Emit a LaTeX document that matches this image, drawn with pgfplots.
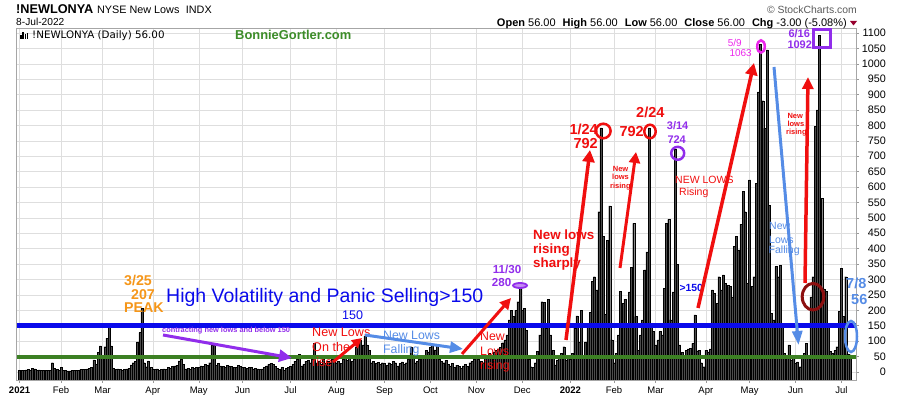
\documentclass[border=0pt]{standalone}
\usepackage{pgfplots}
\pgfplotsset{compat=1.18}
\usepackage{pgfplotstable}
\usepackage{fontspec}
\setmainfont{Liberation Sans}
\newfontfamily\dejavu{DejaVu Sans}
\usetikzlibrary{arrows.meta}
\definecolor{barfill}{RGB}{75,75,75}
\definecolor{hvblue}{RGB}{10,10,235}
\definecolor{lgreen}{RGB}{60,128,35}
\definecolor{ared}{RGB}{240,15,15}
\definecolor{apurple}{RGB}{145,45,235}
\definecolor{amagenta}{RGB}{235,40,235}
\definecolor{lblue}{RGB}{85,140,230}
\definecolor{dred}{RGB}{140,15,15}
\definecolor{aorange}{RGB}{245,150,25}
\definecolor{bgreen}{RGB}{60,140,40}
\definecolor{scgray}{RGB}{90,90,90}
\definecolor{tri}{RGB}{150,0,45}
\newcommand{\fs}[1]{\fontsize{#1}{#1}\selectfont}
\pgfplotstableread[row sep=\\]{
i v\\
0 6\\ 1 6\\ 2 5\\ 3 7\\ 4 8\\ 5 6\\ 6 12\\ 7 10\\ 8 6\\ 9 7\\ 10 6\\ 11 5\\ 12 6\\ 13 5\\ 14 6\\ 15 30\\ 16 12\\ 17 8\\ 18 6\\
19 15\\ 20 6\\ 21 5\\ 22 4\\ 23 4\\ 24 5\\ 25 5\\ 26 6\\ 27 6\\ 28 8\\ 29 8\\ 30 9\\ 31 10\\ 32 12\\ 33 14\\ 34 39\\ 35 25\\ 36 63\\ 37 85\\
38 50\\ 39 82\\ 40 110\\ 41 145\\ 42 85\\ 43 12\\ 44 8\\ 45 10\\ 46 8\\ 47 6\\ 48 8\\ 49 10\\ 50 12\\ 51 23\\ 52 30\\ 53 35\\ 54 98\\ 55 128\\ 56 207\\ 57 30\\ 58 17\\ 59 36\\ 60 15\\
61 10\\ 62 8\\ 63 10\\ 64 6\\ 65 8\\ 66 10\\ 67 8\\ 68 14\\ 69 12\\ 70 18\\ 71 20\\ 72 22\\ 73 36\\ 74 40\\ 75 25\\ 76 10\\ 77 12\\ 78 8\\ 79 14\\ 80 12\\ 81 16\\
82 15\\ 83 20\\ 84 18\\ 85 25\\ 86 22\\ 87 30\\ 88 86\\ 89 88\\ 90 22\\ 91 28\\ 92 20\\ 93 18\\ 94 15\\ 95 22\\ 96 20\\ 97 18\\ 98 14\\ 99 16\\ 100 22\\ 101 18\\
102 14\\ 103 16\\ 104 12\\ 105 14\\ 106 15\\ 107 10\\ 108 12\\ 109 10\\ 110 8\\ 111 10\\ 112 14\\ 113 20\\ 114 25\\ 115 28\\ 116 24\\ 117 18\\ 118 12\\ 119 8\\ 120 14\\ 121 6\\ 122 12\\ 123 14\\
124 18\\ 125 25\\ 126 35\\ 127 40\\ 128 58\\ 129 20\\ 130 25\\ 131 35\\ 132 38\\ 133 30\\ 134 40\\ 135 92\\ 136 30\\ 137 35\\ 138 25\\ 139 40\\ 140 28\\ 141 35\\ 142 30\\ 143 40\\ 144 35\\
145 30\\ 146 35\\ 147 28\\ 148 40\\ 149 45\\ 150 38\\ 151 44\\ 152 35\\ 153 40\\ 154 82\\ 155 88\\ 156 104\\ 157 88\\ 158 117\\ 159 88\\ 160 71\\ 161 30\\ 162 35\\ 163 28\\ 164 32\\ 165 25\\ 166 30\\
167 28\\ 168 22\\ 169 30\\ 170 25\\ 171 35\\ 172 30\\ 173 20\\ 174 28\\ 175 33\\ 176 25\\ 177 30\\ 178 40\\ 179 82\\ 180 55\\ 181 30\\ 182 35\\ 183 40\\ 184 45\\ 185 55\\ 186 70\\ 187 65\\
188 80\\ 189 88\\ 190 72\\ 191 85\\ 192 40\\ 193 35\\ 194 30\\ 195 38\\ 196 25\\ 197 20\\ 198 28\\ 199 15\\ 200 22\\ 201 18\\ 202 12\\ 203 20\\ 204 25\\ 205 18\\ 206 30\\ 207 35\\ 208 40\\
209 45\\ 210 40\\ 211 35\\ 212 30\\ 213 45\\ 214 50\\ 215 60\\ 216 55\\ 217 65\\ 218 70\\ 219 75\\ 220 80\\ 221 95\\ 222 104\\ 223 120\\ 224 169\\ 225 201\\ 226 180\\ 227 200\\ 228 228\\ 229 280\\
230 201\\ 231 207\\ 232 136\\ 233 40\\ 234 17\\ 235 15\\ 236 30\\ 237 66\\ 238 120\\ 239 228\\ 240 225\\ 241 142\\ 242 236\\ 243 120\\ 244 71\\ 245 23\\ 246 39\\ 247 45\\ 248 60\\ 249 82\\ 250 39\\ 251 50\\
252 40\\ 253 60\\ 254 142\\ 255 182\\ 256 98\\ 257 201\\ 258 50\\ 259 98\\ 260 150\\ 261 193\\ 262 293\\ 263 309\\ 264 266\\ 265 520\\ 266 792\\ 267 439\\ 268 187\\ 269 428\\ 270 539\\ 271 104\\
272 30\\ 273 60\\ 274 120\\ 275 261\\ 276 223\\ 277 236\\ 278 152\\ 279 260\\ 280 340\\ 281 482\\ 282 180\\ 283 70\\ 284 120\\ 285 169\\ 286 331\\ 287 390\\ 288 792\\ 289 158\\ 290 131\\
291 88\\ 292 104\\ 293 131\\ 294 120\\ 295 271\\ 296 482\\ 297 495\\ 298 169\\ 299 260\\ 300 724\\ 301 350\\ 302 88\\ 303 63\\ 304 45\\ 305 71\\ 306 75\\ 307 77\\ 308 93\\ 309 185\\ 310 69\\ 311 71\\ 312 30\\ 313 17\\
314 71\\ 315 65\\ 316 75\\ 317 266\\ 318 255\\ 319 223\\ 320 309\\ 321 266\\ 322 315\\ 323 288\\ 324 282\\ 325 277\\ 326 244\\ 327 407\\ 328 439\\ 329 396\\ 330 480\\ 331 585\\ 332 520\\ 333 288\\
334 623\\ 335 277\\ 336 309\\ 337 612\\ 338 909\\ 339 1063\\ 340 880\\ 341 790\\ 342 1045\\ 343 540\\ 344 190\\ 345 169\\ 346 342\\ 347 309\\ 348 347\\ 349 152\\ 350 60\\ 351 44\\ 352 88\\ 353 39\\ 354 44\\
355 28\\ 356 33\\ 357 17\\ 358 44\\ 359 60\\ 360 93\\ 361 55\\ 362 244\\ 363 309\\ 364 796\\ 365 850\\ 366 1092\\ 367 563\\ 368 270\\ 369 262\\ 370 150\\ 371 66\\ 372 60\\ 373 70\\ 374 82\\ 375 196\\
376 336\\ 377 180\\ 378 309\\ 379 59\\ 380 56\\
}\newlows
\begin{document}
\begin{tikzpicture}
\useasboundingbox (0,0) rectangle (900pt,396pt);
\begin{axis}[
  at={(16.7pt,16pt)}, anchor=south west,
  width=839.3pt, height=352pt, scale only axis,
  xmin=-1.3, xmax=382.7, ymin=0, ymax=1142,
  axis line style={draw=black!35},
  ytick={26,76,...,1126},
  yticklabels={0,50,100,150,200,250,300,350,400,450,500,550,600,650,700,750,800,850,900,950,1000,1050,1100},
  ytick pos=right, yticklabel pos=right,
  yticklabel style={font=\fs{10.8}, anchor=east, inner sep=0pt, xshift=27pt},
  xtick={0,19,38,61,82,102,124,145,167,188,209,230,252,272,291,314,334,355,376},
  xticklabels={\textbf{2021},Feb,Mar,Apr,May,Jun,Jul,Aug,Sep,Oct,Nov,Dec,\textbf{2022},Feb,Mar,Apr,May,Jun,Jul},
  xtick pos=bottom,
  xticklabel style={font=\fs{9.5}},
  tick align=outside, major tick length=3pt,
  tick style={draw=black!40, line width=0.5pt},
  grid=major, grid style={draw=black!13, line width=0.5pt},
]
\addplot[ybar, bar width=2pt, fill=barfill, draw=black, line width=0.35pt]
  table[x=i, y expr=\thisrow{v}+26] {\newlows};
\addplot[hvblue, line width=5pt] coordinates {(-1.3,176) (382.7,176)};
\addplot[lgreen, line width=4pt] coordinates {(-1.3,76) (382.7,76)};
\end{axis}
\begin{scope}[x=1pt, y=-1pt, shift={(0pt,396pt)}]
  \tikzset{t/.style={anchor=base west, inner sep=0pt}, te/.style={anchor=base east, inner sep=0pt}}
  % header
  \node[t, font=\fs{12.7}\bfseries] at (16,14) {!NEWLONYA};
  \node[t, font=\fs{10.8}] at (97,13.3) {NYSE New Lows\hspace{3.5pt} INDX};
  \node[t, font=\fs{10.2}] at (16,26) {8-Jul-2022};
  \node[te, font=\fs{10.4}, text=scgray] at (857,13.3) {© StockCharts.com};
  \node[te, font=\fs{11}] at (847,26.7) {\textbf{Open} 56.00\hspace{4pt} \textbf{High} 56.00\hspace{4pt} \textbf{Low} 56.00\hspace{4pt} \textbf{Close} 56.00\hspace{4pt} \textbf{Chg} -3.00 (-5.08\%)};
  \fill[tri] (850,21) -- (857,21) -- (853.5,25.5) -- cycle;
  \fill (20,39) rectangle (21.6,35); \fill (22.4,39) rectangle (24,32); \fill (24.8,39) rectangle (26.4,34); \fill (27.2,39) rectangle (28.4,33);
  \node[t, font=\dejavu\fs{10.3}] at (32,39) {!NEWLONYA (Daily) 56.00};
  \node[t, font=\fs{12.9}\bfseries, text=bgreen] at (235,39.3) {BonnieGortler.com};
  % 2021 annotations
  \node[t, font=\fs{14.2}\bfseries, text=aorange] at (124,286) {3/25};
  \node[t, font=\fs{14.2}\bfseries, text=aorange] at (131,300) {207};
  \node[t, font=\fs{14.2}\bfseries, text=aorange] at (124,312.7) {PEAK};
  \node[t, font=\fs{19.5}, text=hvblue] at (166,302.7) {High Volatility and Panic Selling>150};
  \node[t, font=\fs{12.5}, text=hvblue] at (342,320) {150};
  \node[t, font=\fs{7.4}\bfseries, text=apurple] at (162,333) {contracting new lows and below 150};
  \draw[apurple, line width=3pt, -{Triangle[length=13pt,width=12pt]}] (163,335) -- (292,358);
  \node[t, font=\fs{12.6}, text=ared] at (312,337) {New Lows};
  \node[t, font=\fs{12.6}, text=ared] at (312,351.7) {On the};
  \node[t, font=\fs{12.6}, text=ared] at (312,366.5) {rise};
  \draw[ared, line width=3pt, -{Triangle[length=10pt,width=10pt]}] (333,362) -- (362,338);
  \node[t, font=\fs{12.3}, text=lblue] at (383,340) {New Lows};
  \node[t, font=\fs{12.3}, text=lblue] at (383,354) {Falling};
  \draw[lblue, line width=3pt, -{Triangle[length=13pt,width=11pt]}] (365,335) -- (463,349);
  \node[t, font=\fs{12.3}, text=ared] at (480,340.5) {New};
  \node[t, font=\fs{12.3}, text=ared] at (480,355.5) {Lows};
  \node[t, font=\fs{12.3}, text=ared] at (480,369.5) {rising};
  \draw[ared, line width=3pt, -{Triangle[length=11pt,width=11pt]}] (462,354) -- (511,298);
  \node[t, font=\fs{11.6}\bfseries, text=apurple] at (492.7,273.3) {11/30};
  \node[t, font=\fs{11.6}\bfseries, text=apurple] at (491.7,286.7) {280};
  \draw[apurple, line width=1.8pt, fill=apurple!55] (520,285.5) ellipse (7 and 2.5);
  % 2022 annotations
  \node[t, font=\fs{13.4}\bfseries, text=ared] at (533,240) {New lows};
  \node[t, font=\fs{13.4}\bfseries, text=ared] at (533,254) {rising};
  \node[t, font=\fs{13.4}\bfseries, text=ared] at (533,267.5) {sharply};
  \draw[ared, line width=3.5pt, -{Triangle[length=12pt,width=12pt]}] (566,340) -- (590,150);
  \node[t, font=\fs{14.5}\bfseries, text=ared] at (569.3,134.3) {1/24};
  \node[t, font=\fs{14.5}\bfseries, text=ared] at (573.3,148.3) {792};
  \draw[ared, line width=2.5pt] (603.3,131) circle (7.3);
  \node[t, font=\fs{7.5}\bfseries, text=ared] at (612.7,171.7) {New};
  \node[t, font=\fs{7.5}\bfseries, text=ared] at (612,180) {lows};
  \node[t, font=\fs{7.5}\bfseries, text=ared] at (610,189) {rising};
  \draw[ared, line width=3pt, -{Triangle[length=11pt,width=11pt]}] (620,268) -- (636,152);
  \node[t, font=\fs{14.5}\bfseries, text=ared] at (619.3,136.7) {792};
  \node[t, font=\fs{14.5}\bfseries, text=ared] at (636,117.3) {2/24};
  \draw[ared, line width=2.5pt] (650,131.5) ellipse (5.7 and 6.8);
  \node[t, font=\fs{11}\bfseries, text=apurple] at (666.7,130) {3/14};
  \node[t, font=\fs{11}\bfseries, text=apurple] at (667.3,143.3) {724};
  \draw[apurple, line width=2.5pt] (677.7,153.3) circle (6.5);
  \node[t, font=\fs{10.5}, text=ared] at (675,184) {NEW LOWS};
  \node[t, font=\fs{10.5}, text=ared] at (679,195.3) {Rising};
  \node[t, font=\fs{10.4}\bfseries, text=hvblue] at (679.3,291.7) {>150};
  \draw[ared, line width=3.5pt, -{Triangle[length=12pt,width=12pt]}] (698,308) -- (754,63);
  \node[t, font=\fs{10}, text=amagenta] at (727.7,46.7) {5/9};
  \node[t, font=\fs{10}, text=amagenta] at (729.3,56.7) {1063};
  \draw[amagenta, line width=2.5pt] (761,46.5) ellipse (3.8 and 6.2);
  \draw[lblue, line width=3pt, -{Triangle[length=14pt,width=10pt]}] (774,67) -- (798.5,345);
  \node[t, font=\fs{10.5}, text=lblue] at (769,230) {New};
  \node[t, font=\fs{10.5}, text=lblue] at (769,243.3) {Lows};
  \node[t, font=\fs{10.5}, text=lblue] at (768.5,253.5) {Falling};
  \draw[ared, line width=3.5pt, -{Triangle[length=12pt,width=11pt]}] (805,283) -- (808,77);
  \node[t, font=\fs{7.5}\bfseries, text=ared] at (787.3,118.3) {New};
  \node[t, font=\fs{7.5}\bfseries, text=ared] at (787.3,127) {lows};
  \node[t, font=\fs{7.5}\bfseries, text=ared] at (786,134.5) {rising};
  \draw[dred, line width=3pt] (813,296.7) ellipse (10.8 and 13.3);
  \node[t, font=\fs{11}\bfseries, text=apurple] at (788.3,37.3) {6/16};
  \node[t, font=\fs{11}\bfseries, text=apurple] at (787.3,49) {1092};
  \draw[apurple, line width=3pt] (813,30) rectangle (830,48);
  \node[t, font=\fs{14.5}\bfseries, text=lblue] at (846,289) {7/8};
  \node[t, font=\fs{14.5}\bfseries, text=lblue] at (851,305) {56};
  \draw[lblue, line width=2.5pt] (851,336.5) ellipse (6 and 15.5);
\end{scope}
\end{tikzpicture}
\end{document}
